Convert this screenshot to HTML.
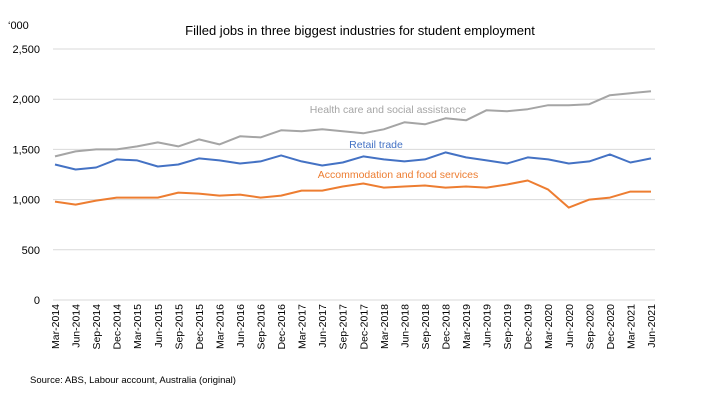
<!DOCTYPE html>
<html><head><meta charset="utf-8"><style>
body{margin:0;background:#fff;}
svg{display:block;font-family:"Liberation Sans",Calibri,sans-serif;}
</style></head><body>
<svg id="c" width="720" height="405" xmlns="http://www.w3.org/2000/svg">
<text x="360" y="35" font-size="13" text-anchor="middle" fill="#000">Filled jobs in three biggest industries for student employment</text>
<text x="8" y="29" font-size="11" fill="#000">‘000</text>
<text x="30" y="383" font-size="9.5" fill="#000">Source: ABS, Labour account, Australia (original)</text>
<text x="388" y="113" font-size="10.5" fill="#a5a5a5" text-anchor="middle">Health care and social assistance</text>
<text x="376" y="148" font-size="10.5" fill="#4472c4" text-anchor="middle">Retail trade</text>
<text x="398" y="178" font-size="10.5" fill="#ed7d31" text-anchor="middle">Accommodation and food services</text>
<g id="g"></g>
</svg>
<script>
var g=document.getElementById('g'),ns='http://www.w3.org/2000/svg',h='';
function Y(v){return 300-v*0.1004;}
for(var v=0;v<=2500;v+=500){var y=Y(v);h+='<line x1="53" x2="655" y1="'+y+'" y2="'+y+'" stroke="#d9d9d9" stroke-width="1"/>';
h+='<text x="40" y="'+(y+4)+'" font-size="11" text-anchor="end">'+v.toLocaleString('en-US')+'</text>';}
var m=['Mar','Jun','Sep','Dec'],x0=55,dx=(651-55)/29;
for(var i=0;i<30;i++){var q=i%4,yr=2014+Math.floor(i/4),x=x0+i*dx;
h+='<text transform="translate('+(x+4)+',304) rotate(-90)" font-size="10.5" text-anchor="end">'+m[q]+'-'+yr+'</text>';}
var S=[["#a5a5a5",[1430,1480,1500,1500,1530,1570,1530,1600,1550,1630,1620,1690,1680,1700,1680,1660,1700,1770,1750,1810,1790,1890,1880,1900,1940,1940,1950,2040,2060,2080]],
["#4472c4",[1350,1300,1320,1400,1390,1330,1350,1410,1390,1360,1380,1440,1380,1340,1370,1430,1400,1380,1400,1470,1420,1390,1360,1420,1400,1360,1380,1450,1370,1410]],
["#ed7d31",[980,950,990,1020,1020,1020,1070,1060,1040,1050,1020,1040,1090,1090,1130,1160,1120,1130,1140,1120,1130,1120,1150,1190,1100,920,1000,1020,1080,1080]]];
S.forEach(function(s){var p=s[1].map(function(v,i){return (x0+i*dx).toFixed(1)+','+Y(v).toFixed(1)}).join(' ');
h+='<polyline points="'+p+'" fill="none" stroke="'+s[0]+'" stroke-width="2" stroke-linejoin="round"/>';});
g.innerHTML=h;
</script>
</body></html>
